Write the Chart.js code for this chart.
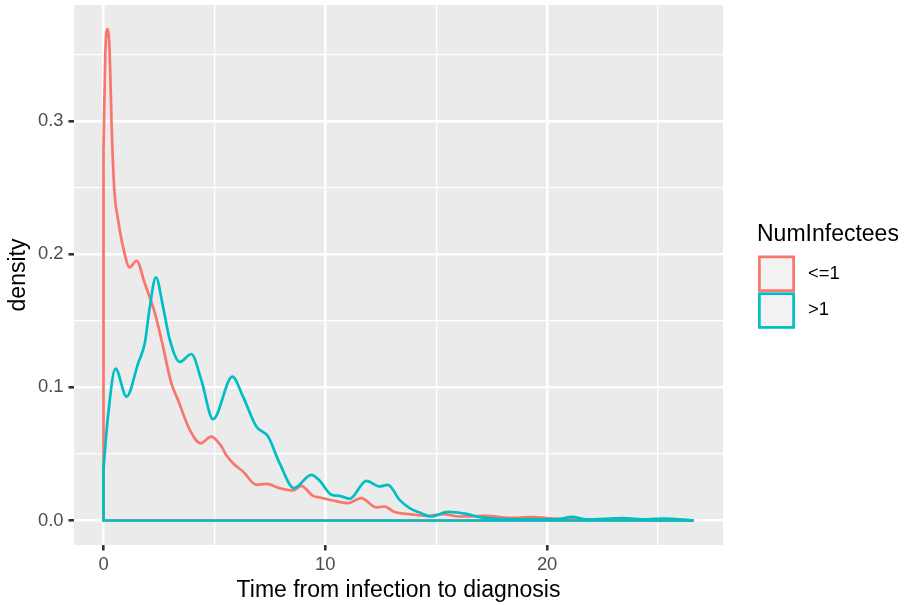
<!DOCTYPE html>
<html>
<head>
<meta charset="utf-8">
<script src="https://cdn.jsdelivr.net/npm/chart.js@4"></script>
<style>
  html, body { margin: 0; padding: 0; background: #ffffff; }
</style>
</head>
<body>
<canvas id="chart" width="906" height="605"></canvas>
<script>
// groups and colours (ggplot default hue palette)
const groups = ['<=1', '>1'];
const groupColors = ['#F8766D', '#00BFC4'];
const legendTitle = 'NumInfectees';

// density curve for NumInfectees <= 1
const lowX = [0, 0.08, 0.18, 0.28, 0.36, 0.48, 0.66, 0.88, 1.18, 1.49, 1.86, 2.31, 2.61, 3.06, 3.36, 3.89,
  4.38, 4.86, 5.32, 5.54, 5.91, 6.29, 6.89, 7.34, 7.94, 8.54, 8.92, 9.44, 9.75, 10.34, 11.02, 11.62,
  12.3, 12.67, 13.12, 13.8, 14.55, 15.3, 16.05, 17.25, 18.3, 19.3, 20.5, 22, 23.5, 25, 26.6];
const lowY = [0.278, 0.35, 0.369, 0.351, 0.30, 0.25, 0.2256, 0.2055, 0.190, 0.195, 0.178, 0.156, 0.136, 0.103, 0.0905, 0.068,
  0.058, 0.063, 0.0555, 0.049, 0.0418, 0.0368, 0.0268, 0.0275, 0.0243, 0.0225, 0.026, 0.0185, 0.0173, 0.015, 0.013, 0.0168,
  0.0098, 0.0105, 0.0063, 0.0048, 0.0035, 0.0048, 0.003, 0.0035, 0.002, 0.0025, 0.0012, 0.0008, 0.0006, 0.0004, 0];

// density curve for NumInfectees > 1
const highX = [0, 0.2, 0.54, 1.04, 1.56, 1.86, 2.09, 2.36, 2.69, 2.99, 3.44, 3.96, 4.41, 4.94, 5.81, 6.29,
  6.89, 7.42, 7.94, 8.59, 9.37, 9.75, 10.27, 10.64, 11.1, 11.85, 12.45, 12.82, 13.35, 13.8, 14.25, 14.77,
  15.55, 16.35, 16.95, 18, 19.5, 20.5, 21.1, 21.8, 23.4, 24.5, 25.3, 26.6];
const highY = [0.039, 0.078, 0.114, 0.093, 0.118, 0.133, 0.1605, 0.1826, 0.16, 0.1356, 0.119, 0.125, 0.1055, 0.076, 0.108, 0.093,
  0.0705, 0.063, 0.043, 0.0243, 0.0343, 0.0298, 0.0193, 0.0185, 0.0163, 0.0298, 0.0255, 0.0268, 0.0155, 0.0093, 0.006, 0.003,
  0.0065, 0.005, 0.0025, 0.001, 0.0008, 0.001, 0.0028, 0.0008, 0.0018, 0.0008, 0.0015, 0];

// axis ticks
const xTicks = [0, 10, 20];
const xMinor = [5, 15, 25];
const yTicks = [0, 0.1, 0.2, 0.3];
const yMinor = [0.05, 0.15, 0.25, 0.35];

const FONT = '"Liberation Sans", Arial, Helvetica, sans-serif';
const isIn = (list, v) => list.some(t => Math.abs(t - v) < 1e-9);

function curve(xs, ys) {
    return xs.map((x, i) => ({ x: x, y: ys[i] }));
}
// ggplot draws the density as a polygon: vertical edge at the start and the baseline
function outline(xs, ys) {
    return [{ x: xs[0], y: ys[0] }, { x: xs[0], y: 0 }, { x: xs[xs.length - 1], y: 0 }];
}

const lineStyle = { borderWidth: 2.7, pointRadius: 0, fill: false, showLine: true };

// teal first so it is drawn on top
const datasets = [
    { ...lineStyle, label: groups[1], data: curve(highX, highY), borderColor: groupColors[1], cubicInterpolationMode: 'monotone' },
    { ...lineStyle, label: groups[1] + ' base', data: outline(highX, highY), borderColor: groupColors[1], tension: 0 },
    { ...lineStyle, label: groups[0], data: curve(lowX, lowY), borderColor: groupColors[0], cubicInterpolationMode: 'monotone' },
    { ...lineStyle, label: groups[0] + ' base', data: outline(lowX, lowY), borderColor: groupColors[0], tension: 0 }
];

const panelBg = {
    id: 'panelBg',
    beforeDraw(chart) {
        const a = chart.chartArea, ctx = chart.ctx;
        ctx.save();
        ctx.fillStyle = '#EBEBEB';
        ctx.fillRect(a.left, a.top, a.right - a.left, a.bottom - a.top);
        ctx.restore();
    }
};

const legendBox = {
    id: 'legendBox',
    afterDraw(chart) {
        const ctx = chart.ctx;
        ctx.save();
        ctx.fillStyle = '#000000';
        ctx.font = '23px ' + FONT;
        ctx.textAlign = 'left';
        ctx.textBaseline = 'alphabetic';
        ctx.fillText(legendTitle, 757, 241);
        groups.forEach((g, i) => {
            const top = 255.5 + i * 36.8;
            ctx.fillStyle = '#F2F2F2';
            ctx.fillRect(758, top, 37, 36.5);
            ctx.strokeStyle = groupColors[i];
            ctx.lineWidth = 2.7;
            ctx.strokeRect(759.4, top + 1.4, 34.2, 33.7);
            ctx.fillStyle = '#000000';
            ctx.font = '18.4px ' + FONT;
            ctx.textBaseline = 'middle';
            ctx.fillText(g, 808, top + 18);
        });
        ctx.restore();
    }
};

new Chart(document.getElementById('chart').getContext('2d'), {
    type: 'scatter',
    data: { datasets: datasets },
    options: {
        responsive: false,
        animation: false,
        layout: { padding: { left: 0, right: 183, top: 5, bottom: 0 } },
        plugins: { legend: { display: false }, tooltip: { enabled: false } },
        scales: {
            x: {
                type: 'linear',
                min: -1.33,
                max: 27.93,
                afterBuildTicks: s => { s.ticks = xTicks.concat(xMinor).sort((a, b) => a - b).map(v => ({ value: v })); },
                afterFit: s => { s.height = 60; s.paddingLeft = 0; s.paddingRight = 0; },
                border: { display: false },
                grid: {
                    color: '#FFFFFF',
                    lineWidth: c => (c.tick && isIn(xTicks, c.tick.value)) ? 2.6 : 1.3,
                    tickLength: 5.5,
                    tickWidth: 2.6,
                    tickColor: c => (c.tick && isIn(xTicks, c.tick.value)) ? '#333333' : 'rgba(0,0,0,0)'
                },
                ticks: {
                    autoSkip: false, maxRotation: 0, padding: 3,
                    color: '#4D4D4D', font: { family: FONT, size: 18.4 },
                    callback: v => isIn(xTicks, v) ? String(v) : ''
                },
                title: {
                    display: true, text: 'Time from infection to diagnosis', color: '#000000',
                    font: { family: FONT, size: 23 }, padding: { top: 0, bottom: 1 }
                }
            },
            y: {
                type: 'linear',
                min: -0.0184,
                max: 0.387,
                afterBuildTicks: s => { s.ticks = yTicks.concat(yMinor).sort((a, b) => a - b).map(v => ({ value: v })); },
                afterFit: s => { s.width = 74; s.paddingTop = 0; s.paddingBottom = 0; },
                border: { display: false },
                grid: {
                    color: '#FFFFFF',
                    lineWidth: c => (c.tick && isIn(yTicks, c.tick.value)) ? 2.6 : 1.3,
                    tickLength: 5.5,
                    tickWidth: 2.6,
                    tickColor: c => (c.tick && isIn(yTicks, c.tick.value)) ? '#333333' : 'rgba(0,0,0,0)'
                },
                ticks: {
                    autoSkip: false, padding: 5,
                    color: '#4D4D4D', font: { family: FONT, size: 18.4 },
                    callback: v => isIn(yTicks, v) ? v.toFixed(1) : ''
                },
                title: {
                    display: true, text: 'density', color: '#000000',
                    font: { family: FONT, size: 23 }, padding: { top: 5, bottom: 0 }
                }
            }
        }
    },
    plugins: [panelBg, legendBox]
});
</script>
</body>
</html>
